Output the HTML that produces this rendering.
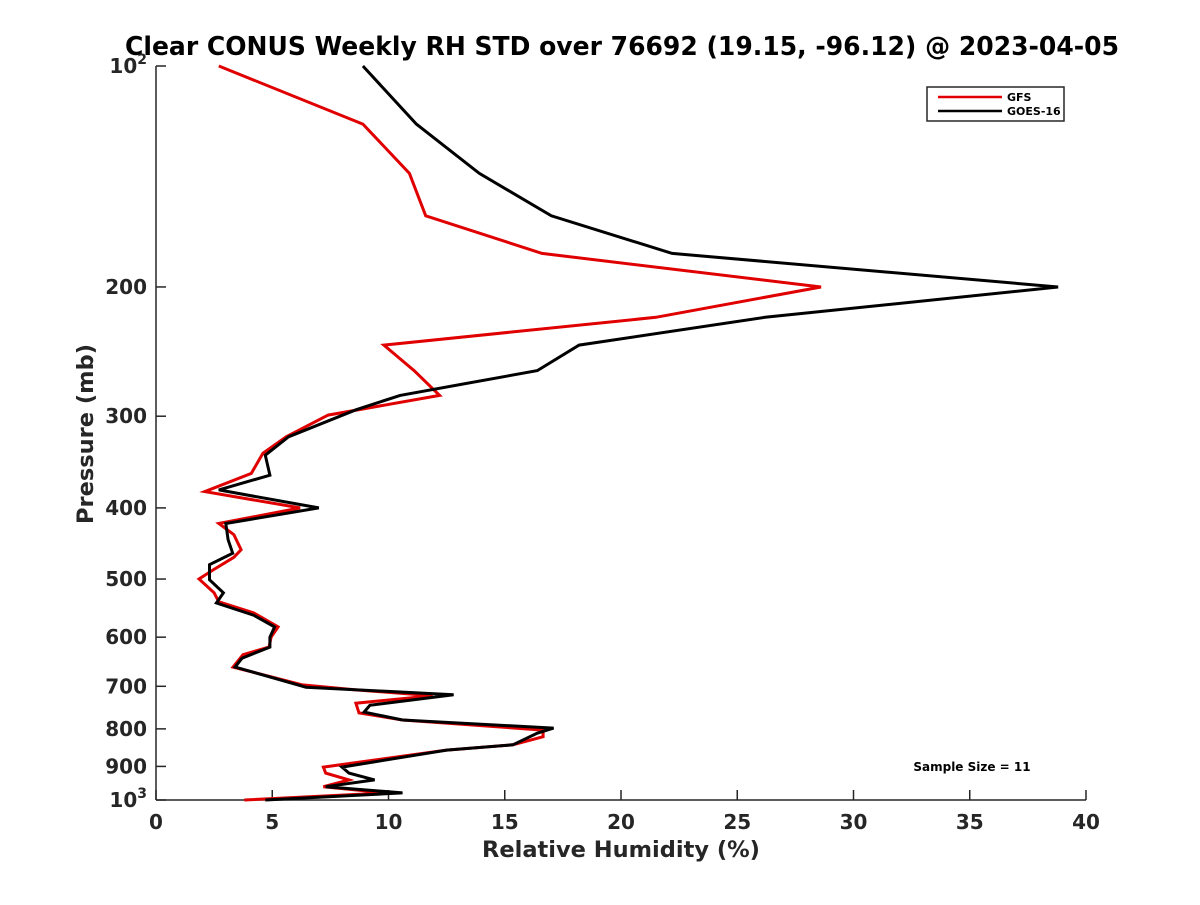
<!DOCTYPE html>
<html><head><meta charset="utf-8"><style>
body{margin:0;background:#fff;}
svg text{font-family:"DejaVu Sans","Liberation Sans",sans-serif;font-weight:bold;fill:#262626;}
</style></head><body>
<svg id="chart" width="1200" height="900" viewBox="0 0 1200 900" xmlns="http://www.w3.org/2000/svg">
<rect width="1200" height="900" fill="#fff"/>
<text x="125" y="55" font-size="26" textLength="994" lengthAdjust="spacingAndGlyphs" style="fill:#000">Clear CONUS Weekly RH STD over 76692 (19.15, -96.12) @ 2023-04-05</text>
<g id="axes"></g>
<g id="series"></g>
<text x="621" y="857" text-anchor="middle" font-size="22.5">Relative Humidity (%)</text>
<text transform="translate(93,434) rotate(-90)" text-anchor="middle" font-size="22.5">Pressure (mb)</text>
<g>
<rect x="927" y="87" width="137" height="34" fill="#fff" stroke="#262626" stroke-width="1.5"/>
<line x1="938" y1="97" x2="1002" y2="97" stroke="#e00000" stroke-width="2.5"/>
<text x="1007" y="101" font-size="11" style="fill:#000">GFS</text>
<line x1="938" y1="111" x2="1002" y2="111" stroke="#000" stroke-width="2.5"/>
<text x="1007" y="115" font-size="11" style="fill:#000">GOES-16</text>
</g>
<text x="972" y="771" text-anchor="middle" font-size="12" style="fill:#000">Sample Size = 11</text>
</svg>
<script>
const xTicks=[0,5,10,15,20,25,30,35,40];
const yTicks=[100,200,300,400,500,600,700,800,900,1000];
const yTickLabels=["10²","200","300","400","500","600","700","800","900","10³"];
const gfsP=[100,120,140,160,180,200,220,240,260,281,299,320,337,359,380,400,420,435,456,467,486,500,522,537,556,581,600,619,634,659,697,708,721,738,761,778,803,820,841,855,902,919,939,959,978,1000];
const gfsV=[2.7,8.9,10.9,11.6,16.6,28.6,21.5,9.8,11.1,12.2,7.4,5.6,4.6,4.1,2.1,6.2,2.7,3.35,3.66,3.35,2.45,1.85,2.5,2.7,4.2,5.25,4.95,4.86,3.74,3.31,6.3,8.6,11.9,8.6,8.73,10.6,16.65,16.65,15.35,12.5,7.2,7.3,8.3,7.2,9.9,3.8];
const goesP=[100,120,140,160,180,200,220,240,260,281,294,320,339,361,378,400,420,442,461,478,501,522,539,560,581,600,619,641,659,702,719,743,759,778,798,811,841,855,902,919,939,959,978,1000];
const goesV=[8.9,11.2,13.9,17.0,22.2,38.8,26.2,18.2,16.4,10.5,8.6,5.7,4.7,4.9,2.7,7.0,3.0,3.1,3.3,2.3,2.3,2.9,2.6,4.2,5.1,4.9,4.9,3.7,3.4,6.45,12.8,9.2,8.95,10.6,17.1,16.4,15.35,12.5,8.0,8.3,9.4,7.3,10.6,4.7];
const X0=156,X1=1086,Y0=66,Y1=800;
const xs=v=>X0+(v-0)/40*(X1-X0);
const ys=p=>Y0+Math.log10(p/100)*(Y1-Y0);
const NS="http://www.w3.org/2000/svg";
const axes=document.getElementById('axes'),ser=document.getElementById('series');
function mk(tag,attrs,parent){const e=document.createElementNS(NS,tag);for(const k in attrs)e.setAttribute(k,attrs[k]);parent.appendChild(e);return e;}
const ya=mk('line',{x1:X0,y1:Y0,x2:X0,y2:Y1,stroke:'#262626','stroke-width':1.5},axes);


const xa=mk('line',{x1:X0,y1:Y1,x2:X1,y2:Y1,stroke:'#262626','stroke-width':1.5},axes);


xTicks.forEach(v=>{
  mk('line',{x1:xs(v),y1:Y1,x2:xs(v),y2:Y1-10,stroke:'#262626','stroke-width':1.5},axes);
  const t=mk('text',{x:xs(v),y:Y1+29,'text-anchor':'middle','font-size':20},axes);
  t.textContent=v;
  
  
});
yTicks.forEach((p,i)=>{
  mk('line',{x1:X0,y1:ys(p),x2:X0+10,y2:ys(p),stroke:'#262626','stroke-width':1.5},axes);
  const t=mk('text',{x:X0-9,y:ys(p)+7,'text-anchor':'end','font-size':20},axes);
  const lab=yTickLabels[i];
  if(lab.indexOf('10')===0&&lab.length===3){t.textContent='10';const s=mk('tspan',{dy:-9,'font-size':14},t);s.textContent=lab==='10²'?'2':'3';}
  else t.textContent=lab;
  
  
});
function line(P,V,color,name){
  const d=P.map((p,i)=>(i?'L':'M')+xs(V[i]).toFixed(1)+','+ys(p).toFixed(1)).join(' ');
  const e=mk('path',{d:d,fill:'none',stroke:color,'stroke-width':3,'stroke-linejoin':'miter'},ser);
  
  
}
line(gfsP,gfsV,'#e00000','gfs-line');
line(goesP,goesV,'#000','goes16-line');
</script>
</body></html>
